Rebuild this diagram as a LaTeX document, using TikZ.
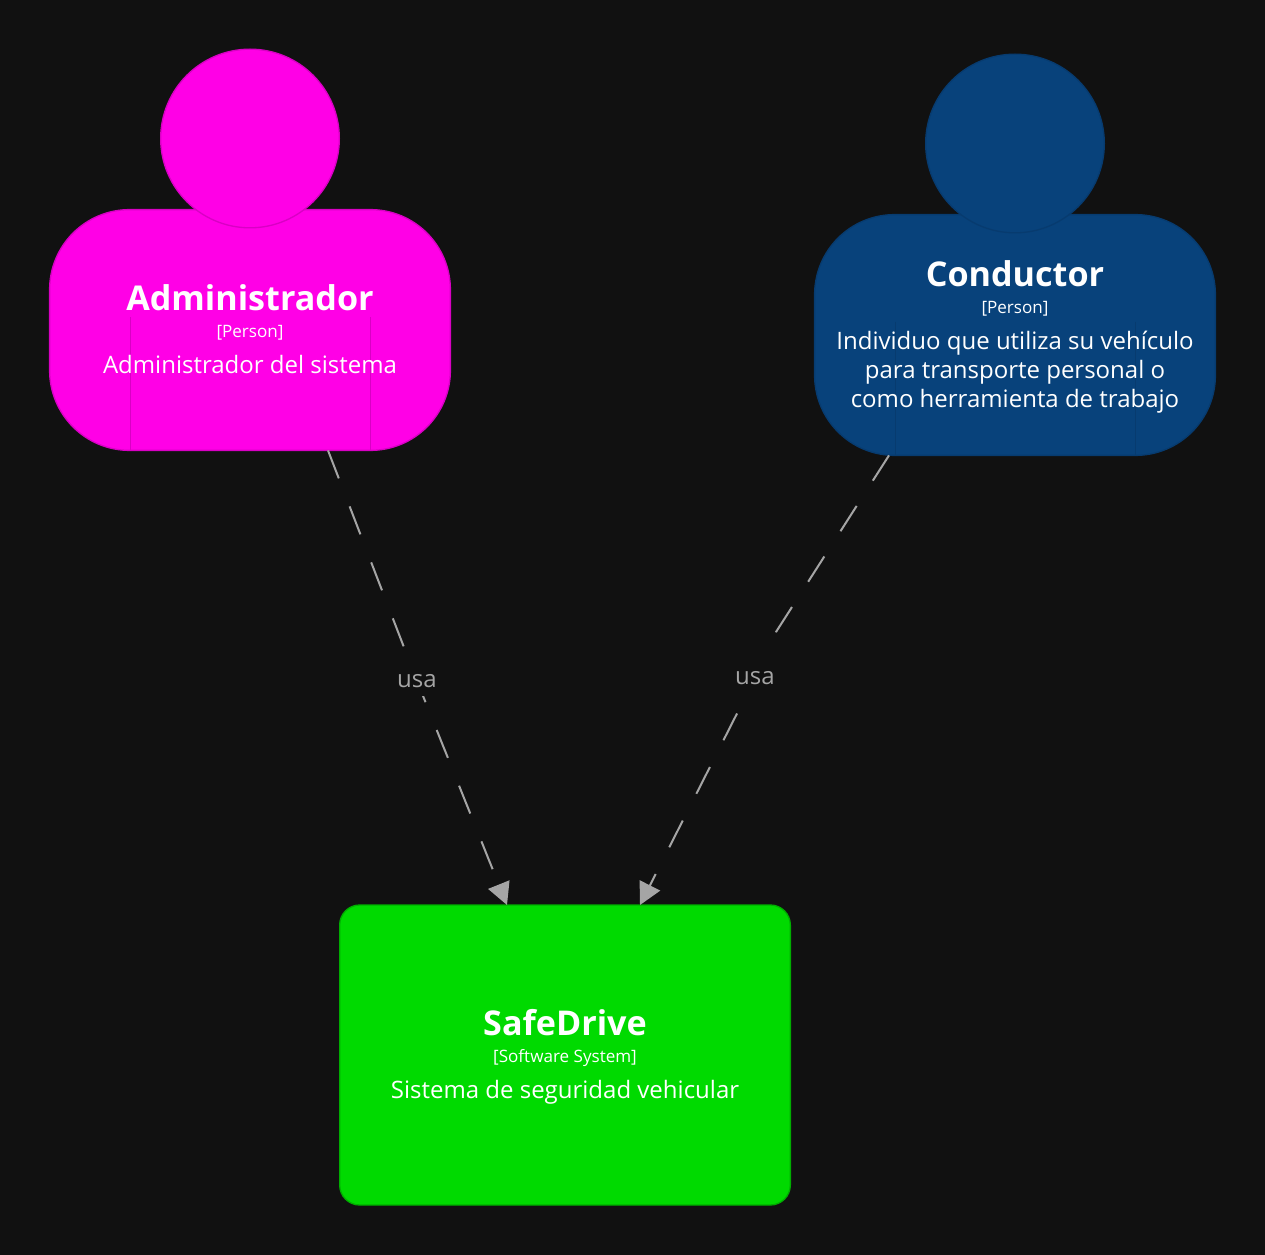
\documentclass[tikz,border=0pt]{standalone}
\usepackage{fontspec}
\setmainfont{Open Sans}
\usetikzlibrary{arrows.meta,calc}
\definecolor{bgc}{HTML}{111111}
\definecolor{magc}{HTML}{FF00E6}
\definecolor{magd}{HTML}{D900C4}
\definecolor{bluc}{HTML}{08427B}
\definecolor{blud}{HTML}{073B6F}
\definecolor{grnc}{HTML}{00DA00}
\definecolor{grnd}{HTML}{00AE00}
\definecolor{linc}{HTML}{A5A5A5}
\tikzset{
  x=0.75pt,y=-0.75pt,
  headshape/.style={circle,draw,line width=1pt,minimum size=134pt,inner sep=0pt,outer sep=0pt},
  bodyshape/.style={rectangle,draw,line width=1pt,rounded corners=60pt,minimum width=300.6pt,minimum height=180.6pt,inner sep=0pt,outer sep=0pt},
  sysshape/.style={rectangle,draw=grnd,fill=grnc,line width=1pt,rounded corners=15pt,minimum width=338pt,minimum height=225pt,inner sep=0pt,outer sep=0pt},
  titletext/.style={text=white,inner sep=0pt,font=\fontsize{25.6}{30}\selectfont\bfseries},
  kindtext/.style={text=white,inner sep=0pt,font=\fontsize{12.8}{15}\selectfont},
  desctext/.style={text=white,inner sep=0pt,align=center,font=\fontsize{18}{21.75}\selectfont},
  linktext/.style={text=linc,fill=bgc,inner sep=0pt,minimum width=42pt,minimum height=23pt,font=\fontsize{18}{22}\selectfont},
  linkline/.style={draw=linc,line width=1.5pt,dash pattern=on 22.5pt off 22.5pt,-{Triangle[length=16.5pt,width=17pt,fill=linc]}},
}
\begin{document}
\begin{tikzpicture}
\useasboundingbox[fill=bgc] (0,0) rectangle (1265,1255);
% Administrador
\node[bodyshape,draw=magd,fill=magc] (adminbody) at (250,330) {};
\draw[magd,line width=.75pt] (130,317) -- (130,450) (370,317) -- (370,450);
\node[headshape,draw=magd,fill=magc] (adminhead) at (250,138.5) {};
\node[titletext] (admintitle) at (250,298) {Administrador};
\node[kindtext] (adminkind) at (250,333) {[Person]};
\node[desctext] (admindesc) at (250,364.6) {Administrador del sistema};
% Conductor
\node[bodyshape,draw=blud,fill=bluc] (condbody) at (1015,335) {};
\draw[blud,line width=.75pt] (895,322) -- (895,455) (1135,322) -- (1135,455);
\node[headshape,draw=blud,fill=bluc] (condhead) at (1015,143.5) {};
\node[titletext] (condtitle) at (1015,274) {Conductor};
\node[kindtext] (condkind) at (1015,309) {[Person]};
\node[desctext] (conddesc) at (1015,372) {Individuo que utiliza su vehículo\\para transporte personal o\\como herramienta de trabajo};
% SafeDrive
\node[sysshape] (sys) at (565,1055) {};
\node[titletext] (systitle) at (565,1023) {SafeDrive};
\node[kindtext] (syskind) at (565,1058) {[Software System]};
\node[desctext] (sysdesc) at (565,1092) {Sistema de seguridad vehicular};
% Connectors
\coordinate (labA) at (417,681);
\coordinate (labB) at (755,678);
\coordinate (bendB) at (776,632);
\draw[linkline] ($(adminbody.south)+(78,0)$) -- (labA) -- ($(sys.north)+(-58,0)$);
\draw[linkline] ($(condbody.south)+(-126,0)$) -- (bendB) -- (labB) -- ($(sys.north)+(75,0)$);
\node[linktext] (usaA) at (labA) {usa};
\node[linktext,minimum height=31pt] (usaB) at (labB) {usa};
\end{tikzpicture}
\end{document}
